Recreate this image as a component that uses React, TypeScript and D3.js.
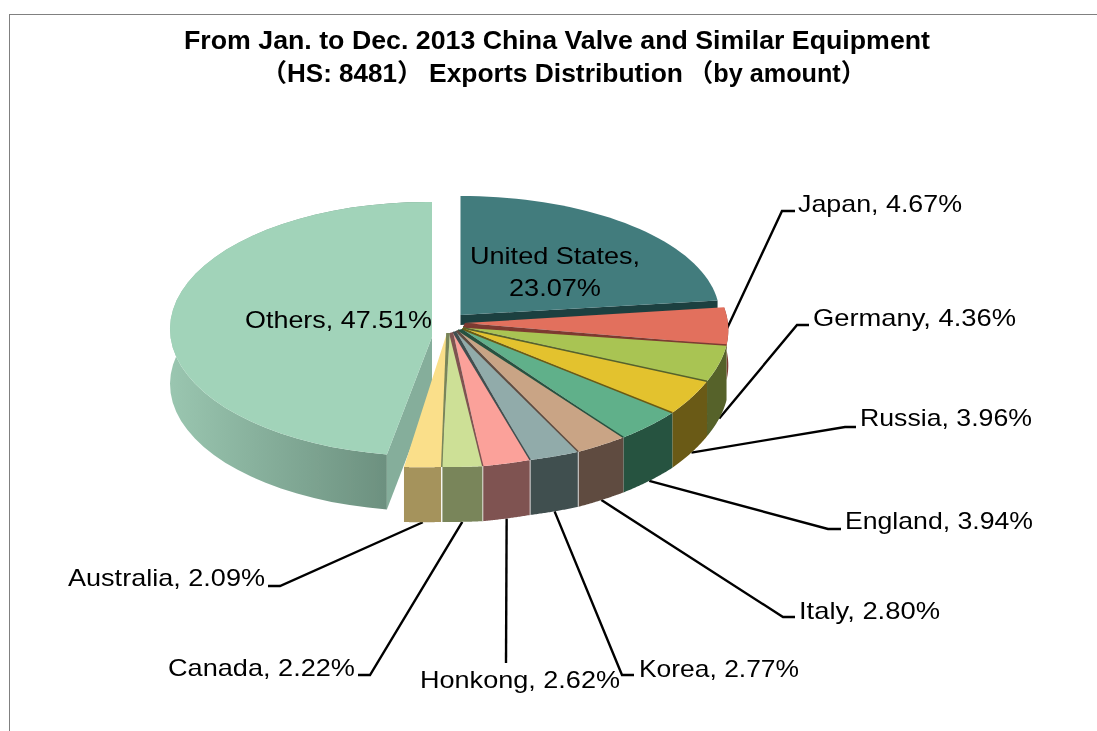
import * as d3 from "d3";

// ---- data ----
const sliceNames = ["United States", "Japan", "Germany", "Russia", "England", "Italy", "Korea", "Honkong", "Canada", "Australia", "Others"];
const sliceValues = [23.07, 4.67, 4.36, 3.96, 3.94, 2.80, 2.77, 2.62, 2.22, 2.09, 47.51];
const topColors = ["#427b7d", "#e26f5d", "#a9c452", "#e3c22f", "#60b08a", "#c9a485", "#91abaa", "#fba19a", "#cde096", "#fadf8a", "#a1d3b9"];
const sideColors = ["#1f3f3f", "#7d3a30", "#56622c", "#6b5a12", "#285240", "#5f4c40", "#414f50", "#7f5351", "#79855a", "#a5935b", "#85ae9b"];

// ---- layout ----
const W = 1097, H = 731, DEPTH = 55, RX = 266, RY = 131;
const rad = (deg: number) => (deg * Math.PI) / 180;
const knotA = [83, 100, 115, 130, 144, 154, 164, 173.5, 181.5, 189];
const rimCx = d3.scaleLinear().domain(knotA).range([460, 464.5, 467, 468, 467, 462, 457, 452.5, 448.5, 445.5]);
const rimCy = d3.scaleLinear().domain(knotA).range([323, 322.7, 324.6, 329, 331.5, 334, 334, 336, 336, 337.6]);
const apexA = [91, 108, 122, 137, 149, 159, 169, 177, 185];
const apexX = d3.scaleLinear().domain(apexA).range([465, 463, 463, 462, 458, 456, 453, 450, 447]);
const apexY = d3.scaleLinear().domain(apexA).range([323, 327, 328, 329, 330, 331, 332, 333, 333]);

type Pt = [number, number];
const rim = (deg: number): Pt => [rimCx(deg) + RX * Math.sin(rad(deg)), rimCy(deg) - RY * Math.cos(rad(deg))];
const ell = (cx: number, cy: number, rx: number, ry: number) => (deg: number): Pt => [cx + rx * Math.sin(rad(deg)), cy - ry * Math.cos(rad(deg))];
const usRim = ell(460.5, 315, 259, 119);
const otherRim = ell(427, 329, 257, 127);
const line = d3.line<Pt>();
const sweep = (a: number, b: number, f: (d: number) => Pt) => d3.range(0, 41).map((i) => f(a + ((b - a) * i) / 40));
const down = (p: Pt, d = DEPTH): Pt => [p[0], p[1] + d];

const arcs = d3.pie<number>().sort(null).value((v) => v)(sliceValues).map((a) => ({
  start: (a.startAngle * 180) / Math.PI,
  end: (a.endAngle * 180) / Math.PI,
}));

// label placement: text start, text width, baseline, leader elbow and end (for slices 1..9)
const labelBoxes = [
  { x: 798, w: 164, y: 212, elbow: [782, 211], tail: [795, 211] },
  { x: 813, w: 203, y: 326, elbow: [797, 325], tail: [809, 325] },
  { x: 860, w: 172, y: 426, elbow: [845, 427], tail: [856, 427] },
  { x: 845, w: 188, y: 529, elbow: [828, 529], tail: [841, 529] },
  { x: 799, w: 141, y: 619, elbow: [783, 617], tail: [795, 617] },
  { x: 639, w: 160, y: 677, elbow: [622, 675], tail: [634, 675] },
  { x: 420, w: 200, y: 688, elbow: [506, 663], tail: [506, 663] },
  { x: 168, w: 187, y: 676, elbow: [370, 675], tail: [358, 675] },
  { x: 68, w: 197, y: 586, elbow: [280, 586], tail: [268, 586] },
];

const FONT = "'Liberation Sans', Arial, sans-serif";
const TITLE_FONT = "'Liberation Sans', 'Noto Sans CJK SC', sans-serif";
const labelText = (i: number) => `${sliceNames[i]}, ${sliceValues[i].toFixed(2)}%`;
const midOf = (i: number) => (arcs[i].start + arcs[i].end) / 2;
const apexOf = (i: number): Pt => [apexX(midOf(i)), apexY(midOf(i))];

function Txt({ x, y, w, s, size = 24, bold = false, fam = FONT }: any) {
  return (
    <text x={x} y={y} textLength={w} lengthAdjust="spacingAndGlyphs" fontFamily={fam} fontSize={size} fontWeight={bold ? 700 : 400} fill="#000">
      {s}
    </text>
  );
}

export default function App() {
  const others = arcs[10];
  const us = arcs[0];
  const cluster = d3.range(1, 10);
  const otherApex: Pt = [432, 337];
  const usApex: Pt = [460.5, 315];
  return (
    <svg width={W} height={H} viewBox={`0 0 ${W} ${H}`} style={{ position: "absolute", left: 0, top: 0, display: "block", background: "#fff" }}>
      <defs>
        <linearGradient id="otherSide" gradientUnits="userSpaceOnUse" x1={170} x2={388} y1={0} y2={0}>
          <stop offset="0" stopColor="#9ac6b0" />
          <stop offset="1" stopColor="#6c907f" />
        </linearGradient>
        <filter id="soft" x="0" y="0" width="100%" height="100%">
          <feGaussianBlur stdDeviation="0.4" />
        </filter>
      </defs>
      <g filter="url(#soft)">
        <path d={`M9,${H}V14H${W}`} fill="none" stroke="#808080" strokeWidth={2} />

        {/* leaders */}
        {cluster.map((i) => {
          const p = rim(midOf(i));
          const start = i === 1 ? ([p[0] - 1, p[1] + 2] as Pt) : down(p);
          const b = labelBoxes[i - 1];
          return <path key={i} d={line([start, b.elbow as Pt, b.tail as Pt]) as string} fill="none" stroke="#000" strokeWidth={2.4} />;
        })}

        {/* United States */}
        <path d={line([usApex, usRim(us.end), down(usRim(us.end), 10), down(usApex, 10)]) + "Z"} fill={sideColors[0]} />
        <path d={line([usApex, ...sweep(us.start, us.end, usRim)]) + "Z"} fill={topColors[0]} />

        {/* Others */}
        <path d={line([...sweep(others.start, 360, otherRim), ...sweep(360, others.start, (d) => down(otherRim(d)))]) + "Z"} fill="url(#otherSide)" />
        <path d={line([otherApex, otherRim(others.start), down(otherRim(others.start)), down(otherApex)]) + "Z"} fill={sideColors[10]} />
        <path d={line([otherApex, ...sweep(others.start, 360, otherRim), [432, 202]]) + "Z"} fill={topColors[10]} />

        {/* the fan of small slices */}
        {cluster.map((i) => {
          const { start, end } = arcs[i];
          const apex = apexOf(i);
          const depth = i === 1 ? 35 : DEPTH;
          const side = [...sweep(start, end, rim), ...sweep(end, start, (d) => down(rim(d), depth))];
          return (
            <g key={i}>
              {i > 1 && <path d={line([apexOf(i - 1), rim(start), apex]) + "Z"} fill={sideColors[i - 1]} />}
              <path d={line(side) + "Z"} fill={sideColors[i]} />
              <path d={line([apex, ...sweep(start, end, rim)]) + "Z"} fill={topColors[i]} />
              {i > 1 && <path d={line([apex, rim(start)]) as string} stroke={sideColors[i - 1]} strokeWidth={1.5} fill="none" />}
              {start > 150 && (
                <path d={line([rim(start), down(rim(start))]) as string} stroke="#fff" strokeWidth={1.3} strokeOpacity={i === 9 ? 1 : 0.55} fill="none" />
              )}
            </g>
          );
        })}

        {/* labels */}
        <Txt x={470} y={264} w={170} s="United States," />
        <Txt x={509} y={296} w={92} s="23.07%" />
        <Txt x={245} y={328} w={187} s={labelText(10)} />
        {cluster.map((i) => {
          const b = labelBoxes[i - 1];
          return <Txt key={i} x={b.x} y={b.y} w={b.w} s={labelText(i)} />;
        })}

        {/* title */}
        <Txt x={184} y={49} w={746} s="From Jan. to Dec. 2013 China Valve and Similar Equipment" size={25} bold />
        <Txt x={261} y={82} w={162} s="（HS: 8481）" size={25} bold fam={TITLE_FONT} />
        <Txt x={429} y={82} w={254} s="Exports Distribution" size={25} bold />
        <Txt x={688} y={82} w={178} s="（by amount）" size={25} bold fam={TITLE_FONT} />
      </g>
    </svg>
  );
}
